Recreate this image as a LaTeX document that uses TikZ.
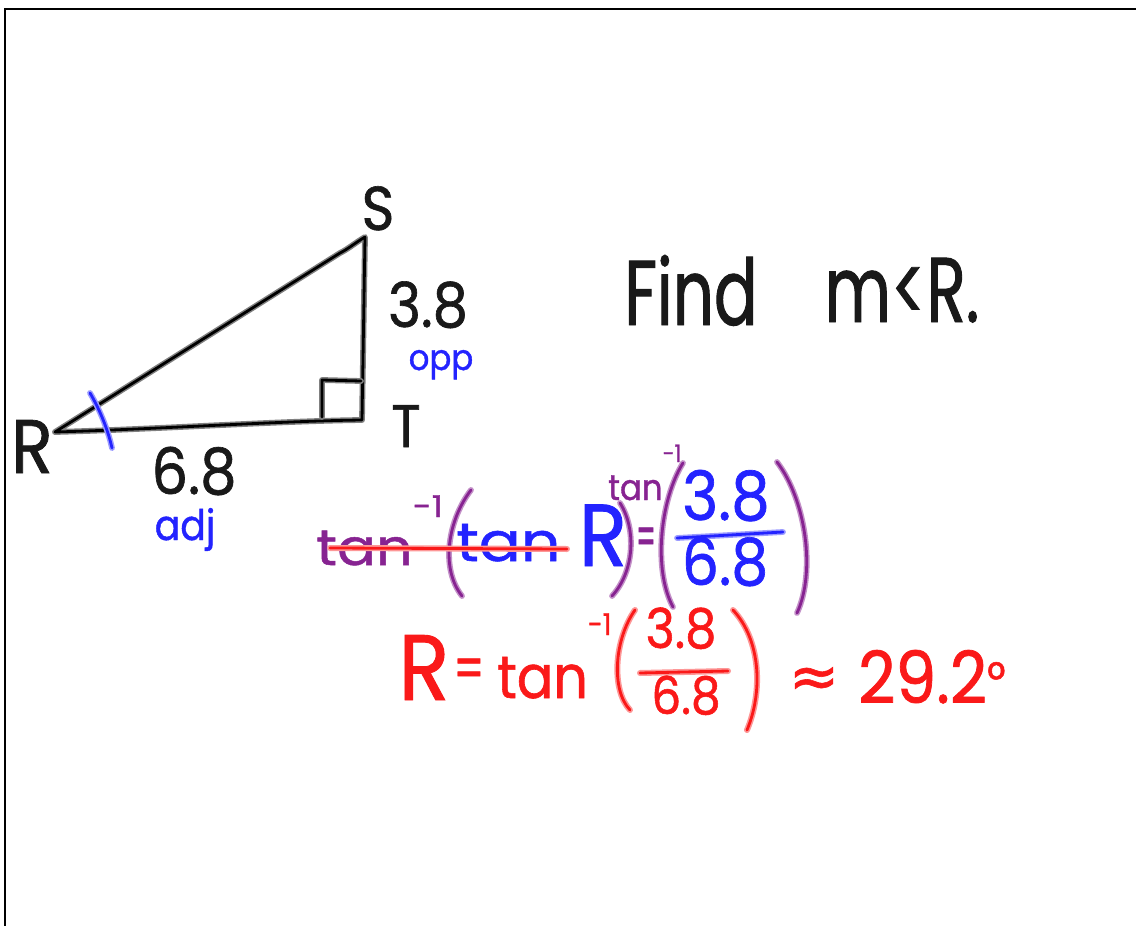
\documentclass[tikz,border=0pt]{standalone}
\usepackage{fontspec}
\setmainfont{Poppins}
\newfontfamily\hand[FakeStretch=0.9,FakeBold=1]{Poppins}
\newfontfamily\handn[FakeStretch=0.7,FakeBold=1]{Poppins}
\newfontfamily\handw[FakeStretch=1.15,FakeBold=1]{Poppins}
\newfontfamily\symf[FakeBold=1]{DejaVu Sans}
\newcommand\fsz[1]{\fontsize{#1}{#1}\selectfont}
\definecolor{inkk}{RGB}{25,25,25}
\definecolor{inkb}{RGB}{35,35,255}
\definecolor{inkp}{RGB}{135,35,145}
\definecolor{inkr}{RGB}{250,25,25}
\tikzset{
  pen/.style={line cap=round, line join=round},
  blackpen/.style={pen, draw=black!50, double=black, double distance=2.8pt, line width=1.5pt},
  bluepen/.style={pen, draw=inkb!45, double=inkb, double distance=2.8pt, line width=1.5pt},
  purplepen/.style={pen, draw=inkp!50, double=inkp, double distance=2.8pt, line width=1.5pt},
  redpen/.style={pen, draw=inkr!45, double=inkr, double distance=2.8pt, line width=1.6pt},
  lab/.style={inner sep=0pt, anchor=base},
}
\begin{document}
\begin{tikzpicture}[x=1pt,y=-1pt]
\useasboundingbox (0,0) rectangle (1136,926);
% frame
\coordinate (f1) at (5,926);
\coordinate (f2) at (5,9);
\coordinate (f3) at (1136,9);
\draw[line width=2.6pt] (f1) -- (f2) -- (f3);

% triangle
\coordinate (R) at (55,432);
\coordinate (T) at (362,420);
\coordinate (S) at (365,237);
\draw[blackpen] (R) .. controls (160,429) and (280,421) .. (T)
  -- (S) .. controls (355,243) and (348,249) .. (340,253) -- (R);
% right angle mark
\coordinate (ra1) at (322,417);
\coordinate (ra2) at (322,380);
\coordinate (ra3) at (361,381);
\draw[blackpen] (ra1) -- (ra2) -- (ra3);
% angle tick
\coordinate (tk1) at (90,393);
\coordinate (tk2) at (112,448);
\draw[bluepen] (tk1) .. controls (100,410) and (108,430) .. (tk2);

% vertex and side labels
\node[lab, text=inkk, font=\hand\fsz{76}] (lR) at (32,473) {R};
\node[lab, text=inkk, font=\hand\fsz{62}] (lS) at (378,230) {S};
\node[lab, text=inkk, font=\hand\fsz{60}] (lT) at (406,447) {T};
\node[lab, text=inkk, font=\hand\fsz{62}] (l38) at (428,327) {3.8};
\node[lab, text=inkb, font=\hand\fsz{36}] (lopp) at (441,370) {opp};
\node[lab, text=inkk, font=\hand\fsz{64}] (l68) at (194,494) {6.8};
\node[lab, text=inkb, font=\hand\fsz{42}] (ladj) at (185,540) {adj};

% Find m<R.
\node[lab, text=inkk, font=\handn\fsz{92}] (find) at (691,325) {Find};
\node[lab, text=inkk, font=\handn\fsz{92}] (mr) at (902,322) {m<R.};

% equation line 1
\node[lab, anchor=base west, text=inkp, font=\handw\fsz{50}] (ta1) at (316,565) {tan\raisebox{48pt}{\fsz{30}-1}};
\draw[purplepen] (471,490) .. controls (448,520) and (440,568) .. (462,596);
\node[lab, anchor=base west, text=inkb, font=\handw\fsz{54}] (ta2) at (456,561) {tan};
\node[lab, text=inkb, font=\hand\fsz{88}] (R1) at (603,566) {R};
\draw[purplepen] (620,503) .. controls (637,530) and (634,572) .. (612,596);
\node[lab, anchor=base west, text=inkp, font=\hand\fsz{36}] (ta3) at (608,500) {tan\raisebox{38pt}{\fsz{24}-1}};
\node[inner sep=0pt, text=inkp, font=\hand\fsz{56}] (eq1) at (646,542) {\scalebox{0.55}[1]{=}};
\draw[purplepen] (683,463) .. controls (660,500) and (653,570) .. (673,607);
\node[lab, text=inkb, font=\hand\fsz{68}] (n1) at (726,520) {3.8};
\coordinate (b1a) at (677,538);
\coordinate (b1b) at (783,532);
\draw[bluepen] (b1a) -- (b1b);
\node[lab, text=inkb, font=\hand\fsz{65}] (d1) at (725,585) {6.8};
\draw[purplepen] (777,462) .. controls (806,500) and (816,572) .. (797,613);
% strike-through
\coordinate (st1) at (330,548);
\coordinate (st2) at (567,549);
\draw[redpen] (st1) -- (st2);

% equation line 2
\node[lab, text=inkr, font=\hand\fsz{93}] (R2) at (424,700) {R};
\node[inner sep=0pt, text=inkr, font=\hand\fsz{60}] (eq2) at (469,674) {\scalebox{0.8}[1]{=}};
\node[lab, anchor=base west, text=inkr, font=\hand\fsz{60}] (ta4) at (497,698) {tan\raisebox{63pt}{\fsz{30}-1}};
\draw[redpen] (635,610) .. controls (614,640) and (611,690) .. (630,710);
\node[lab, text=inkr, font=\hand\fsz{55}] (n2) at (681,648) {3.8};
\coordinate (b2a) at (640,673);
\coordinate (b2b) at (728,671);
\draw[redpen] (b2a) -- (b2b);
\node[lab, text=inkr, font=\hand\fsz{52}] (d2) at (686,714) {6.8};
\draw[redpen] (733,610) .. controls (761,640) and (763,692) .. (747,730);
\node[inner sep=0pt, text=inkr, font=\symf\fsz{60}] (apx) at (814,682) {≈};
\node[lab, anchor=base west, text=inkr, font=\hand\fsz{72}] (res) at (858,703) {29.2\raisebox{6pt}{\fsz{50}°}};
\end{tikzpicture}
\end{document}
